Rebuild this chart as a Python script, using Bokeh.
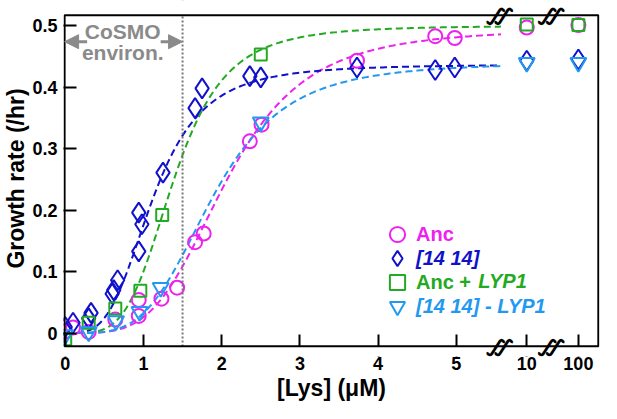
import numpy as np
from bokeh.plotting import figure
from bokeh.models import (FixedTicker, Range1d, Label, Arrow, Span,
                          NormalHead, Legend, LegendItem, BoxAnnotation)
from bokeh.embed import file_html
from bokeh.resources import INLINE

# ---------------- data ----------------
anc_x = [0, 0.1, 0.3, 0.64, 0.94, 0.94, 1.23, 1.43, 1.66, 1.77, 2.36, 2.51, 3.73, 4.73, 4.98, 10, 100]
anc_y = [0.003, 0.009, 0.002, 0.022, 0.028, 0.054, 0.056, 0.074, 0.148, 0.162, 0.312, 0.339, 0.443, 0.483, 0.480, 0.497, 0.501]

d1414_x = [0, 0.1, 0.3, 0.33, 0.6, 0.62, 0.67, 0.94, 0.98, 0.94, 1.25, 1.66, 1.75, 2.36, 2.5, 3.73, 4.73, 4.98, 10, 100]
d1414_y = [0.01, 0.017, 0.024, 0.033, 0.064, 0.07, 0.086, 0.133, 0.177, 0.196, 0.261, 0.366, 0.398, 0.418, 0.416, 0.432, 0.428, 0.432, 0.443, 0.445]

ancl_x = [0, 0.3, 0.64, 0.96, 1.24, 2.5, 10, 100]
ancl_y = [-0.01, 0.017, 0.04, 0.069, 0.192, 0.453, 0.502, 0.501]

dl_x = [0, 0.3, 0.65, 0.95, 1.22, 2.5, 10, 100]
dl_y = [-0.003, 0.002, 0.02, 0.035, 0.074, 0.343, 0.44, 0.44]

# Hill-fit parameters (vmax, K, n) estimated from the dashed fit curves
fit_anc = (0.495, 2.06, 4.0)
fit_1414 = (0.437, 1.12, 3.5)
fit_ancl = (0.50, 1.39, 4.2)
fit_dl = (0.44, 1.88, 4.0)

series_labels = ["Anc", "[14 14]", "Anc +", "[14 14] - LYP1"]
colors = ["#ee22ee", "#1111cc", "#22aa22", "#2299f0"]

x_ticks = [0, 1, 2, 3, 4, 5, 10, 100]
x_tick_labels = ["0", "1", "2", "3", "4", "5", "10", "100"]
y_ticks = [0, 0.1, 0.2, 0.3, 0.4, 0.5]
y_tick_labels = ["0", "0.1", "0.2", "0.3", "0.4", "0.5"]

cosmo_limit = 1.5

# ---------------- broken x axis: linear up to 5.57, then slots ----------------
FIT_END = 5.57
BREAKS = [5.57, 6.23]
SLOTS = {10: 5.9, 100: 6.56}

# plot box (drawn inside a slightly larger frame so the break marks are not clipped)
BOX_X0, BOX_X1 = -0.008, 6.815
BOX_Y0, BOX_Y1 = -0.0215, 0.517
PAD_BOT, PAD_TOP = 0.0165, 0.024


def xpos(vals):
    return [SLOTS.get(v, v) for v in vals]


def hill(x, vmax, k, n):
    return vmax * x ** n / (k ** n + x ** n)


FONT = "Liberation Sans"
GRAY = "#8a8a8a"

p = figure(width=601, height=403, output_backend="svg", toolbar_location=None,
           x_range=Range1d(-0.022, 6.83), y_range=Range1d(BOX_Y0 - PAD_BOT, BOX_Y1 + PAD_TOP),
           min_border_left=50, min_border_right=2, min_border_top=0, min_border_bottom=40)
p.grid.visible = False
p.outline_line_color = None
p.background_fill_color = "white"

# axes
for ax in [p.xaxis[0], p.yaxis[0]]:
    ax.axis_line_color = None
    ax.major_tick_line_width = 2
    ax.major_tick_out = 0
    ax.minor_tick_line_color = None
    ax.major_label_text_font = FONT
    ax.major_label_text_font_style = "bold"
    ax.major_label_text_font_size = "18px"
    ax.major_label_text_color = "black"
    ax.axis_label_text_font = FONT
    ax.axis_label_text_font_style = "bold"
    ax.axis_label_text_font_size = "23px"
    ax.axis_label_text_color = "black"

p.xaxis.ticker = FixedTicker(ticks=xpos(x_ticks))
p.xaxis.major_label_overrides = {t: l for t, l in zip(xpos(x_ticks), x_tick_labels)}
p.xaxis.major_tick_in = 22
p.xaxis.major_label_standoff = 0
p.xaxis.axis_label = "[Lys] (μM)"
p.xaxis.axis_label_standoff = 2

p.yaxis.ticker = FixedTicker(ticks=y_ticks)
p.yaxis.major_label_overrides = {t: l for t, l in zip(y_ticks, y_tick_labels)}
p.yaxis.major_tick_in = 13
p.yaxis.major_label_standoff = 6
p.yaxis.axis_label = "Growth rate (/hr)"
p.yaxis.axis_label_standoff = 0

# CoSMO limit line
p.add_layout(Span(location=cosmo_limit, dimension="height", line_color="#777777",
                  line_dash="2 2", line_width=2))

# fit curves
xs = np.linspace(0, FIT_END, 200)
for fit, c in zip([fit_anc, fit_1414, fit_ancl, fit_dl], colors):
    p.line(xs, hill(xs, *fit), line_color=c, line_width=2, line_dash="7 4")

# points
r_anc = p.scatter(xpos(anc_x), anc_y, marker="circle", size=14, fill_color=None,
                  line_color=colors[0], line_width=2)
r_1414 = p.scatter(xpos(d1414_x), d1414_y, marker="diamond", size=20, fill_color=None,
                   line_color=colors[1], line_width=2)
r_ancl = p.scatter(xpos(ancl_x), ancl_y, marker="square", size=12, fill_color=None,
                   line_color=colors[2], line_width=2)
r_dl = p.scatter(xpos(dl_x), dl_y, marker="inverted_triangle", size=16, fill_color=None,
                 line_color=colors[3], line_width=2)

# white strips outside the plot box (hide the outer part of the x ticks), then the box
p.add_layout(BoxAnnotation(top=BOX_Y0, bottom=BOX_Y0 - PAD_BOT, fill_color="white", fill_alpha=1,
                           line_color=None))
p.add_layout(BoxAnnotation(bottom=BOX_Y1, top=BOX_Y1 + PAD_TOP, fill_color="white", fill_alpha=1,
                           line_color=None))
p.add_layout(BoxAnnotation(left=BOX_X0, right=BOX_X1, bottom=BOX_Y0, top=BOX_Y1,
                           fill_alpha=0, line_color="black", line_alpha=1, line_width=2))

# axis break marks (top and bottom): a white gap, then two slanted strokes
for bx in BREAKS:
    for by in [BOX_Y0, BOX_Y1]:
        p.add_layout(Label(x=bx, y=by, text="∫", text_align="center", text_baseline="middle",
                           text_font="DejaVu Sans", text_font_size="17px", text_alpha=0,
                           background_fill_color="white", padding=0))
        for dx in (-4, 4):
            p.add_layout(Label(x=bx, y=by, x_offset=dx, text="∫", angle=-0.5,
                               text_align="center", text_baseline="middle",
                               text_font="DejaVu Sans", text_font_style="bold",
                               text_font_size="22px", text_color="black"))

# CoSMO annotation
p.add_layout(Label(x=0.735, y=0.49, text="CoSMO", text_align="center", text_baseline="middle",
                   text_font=FONT, text_font_style="bold", text_font_size="21px", text_color=GRAY))
p.add_layout(Label(x=0.735, y=0.457, text="environ.", text_align="center", text_baseline="middle",
                   text_font=FONT, text_font_style="bold", text_font_size="21px", text_color=GRAY))
for xs_, xe_ in [(0.28, BOX_X0), (1.22, cosmo_limit)]:
    p.add_layout(Arrow(end=NormalHead(size=14, fill_color=GRAY, line_color=GRAY),
                       x_start=xs_, y_start=0.474, x_end=xe_, y_end=0.474,
                       line_color=GRAY, line_width=3))

# legend: one Legend per entry so that each can have its own style
legend_locs = [(315, 103), (315, 79), (315, 55), (315, 31)]
styles = ["bold", "bold italic", "bold", "bold italic"]
for r, lab, c, st, loc in zip([r_anc, r_1414, r_ancl, r_dl], series_labels, colors, styles, legend_locs):
    lg = Legend(items=[LegendItem(label=lab, renderers=[r])], location=loc,
                glyph_width=38, glyph_height=38, label_standoff=0, padding=0, margin=0,
                spacing=0, background_fill_alpha=0, border_line_color=None,
                label_text_font=FONT, label_text_font_size="20px", label_text_font_style=st,
                label_text_color=c, label_height=20)
    p.add_layout(lg)
p.add_layout(Label(x=5.28, y=0.085, text="LYP1", text_align="left", text_baseline="middle",
                   text_font=FONT, text_font_style="bold italic", text_font_size="20px",
                   text_color=colors[2]))

open("out.html", "w").write(file_html(p, INLINE))
